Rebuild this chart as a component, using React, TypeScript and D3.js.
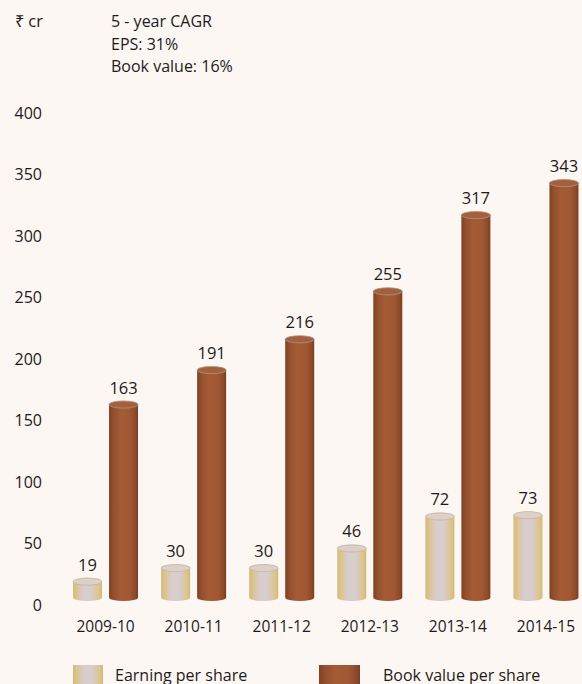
import React from "react";
import * as d3 from "d3";

const categories = ["2009-10", "2010-11", "2011-12", "2012-13", "2013-14", "2014-15"];
const epsValues = [19, 30, 30, 46, 72, 73];
const bookValues = [163, 191, 216, 255, 317, 343];
const seriesNames = ["Earning per share", "Book value per share"];
const yTicks = [0, 50, 100, 150, 200, 250, 300, 350, 400];
const headerLines = ["5 - year CAGR", "EPS: 31%", "Book value: 16%"];
const unitLabel = "₹ cr";

const W = 582;
const H = 684;
const FONT = "'Open Sans', sans-serif";
const TEXT = "#1e1a1b";

export default function App() {
  const x = d3.scaleBand<string>().domain(categories).range([61.5, 590]).padding(0);
  const inner = d3
    .scaleBand<string>()
    .domain(seriesNames)
    .range([-32.5, 32.5])
    .paddingInner(7 / 36)
    .paddingOuter(0);
  const y = d3.scaleLinear().domain([0, 400]).range([605, 113]);
  const bw = inner.bandwidth();
  const ry = 3.6;
  const base = y(0) - 7.5;

  const series = [
    { name: seriesNames[0], values: epsValues, body: "url(#gEps)", top: "#dcd0cc", stroke: "#c9b48e" },
    { name: seriesNames[1], values: bookValues, body: "url(#gBv)", top: "#a4603c", stroke: "#a89488" },
  ];

  return (
    <svg
      width={W}
      height={H}
      style={{ position: "absolute", left: 0, top: 0, background: "#fcf7f3", fontFamily: FONT }}
    >
      <defs>
        <linearGradient id="gEps" x1="0" x2="1" y1="0" y2="0">
          <stop offset="0" stopColor="#d4b87c" />
          <stop offset="0.12" stopColor="#dcc48c" />
          <stop offset="0.38" stopColor="#d9cdd0" />
          <stop offset="0.62" stopColor="#d9cdd0" />
          <stop offset="0.88" stopColor="#dcc58e" />
          <stop offset="1" stopColor="#d2b97e" />
        </linearGradient>
        <linearGradient id="gBv" x1="0" x2="1" y1="0" y2="0">
          <stop offset="0" stopColor="#7e4125" />
          <stop offset="0.15" stopColor="#954f2d" />
          <stop offset="0.4" stopColor="#a25b35" />
          <stop offset="0.7" stopColor="#a05934" />
          <stop offset="0.9" stopColor="#8e4b2b" />
          <stop offset="1" stopColor="#7a3f24" />
        </linearGradient>
      </defs>
      <rect x={0} y={0} width={W} height={H} fill="#fcf7f3" />

      <text x={15} y={27} fontSize={16.5} fill={TEXT}>{unitLabel}</text>
      {headerLines.map((t, i) => (
        <text key={t} x={111} y={27 + i * 22.5} fontSize={16} fill={TEXT}>{t}</text>
      ))}

      {yTicks.map((t) => (
        <text key={t} x={42} y={y(t)} dy="0.35em" textAnchor="end" fontSize={16} fill={TEXT}>
          {t}
        </text>
      ))}

      {categories.map((c, i) => {
        const cx = (x(c) as number) + x.bandwidth() / 2;
        return (
          <g key={c}>
            {series.map((s) => {
              const left = cx + (inner(s.name) as number);
              const mid = left + bw / 2;
              const v = s.values[i];
              const yt = y(v);
              const path = `M${left},${yt} L${left},${base} A${bw / 2},${ry} 0 0 0 ${left + bw},${base} L${left + bw},${yt} Z`;
              return (
                <g key={s.name}>
                  <path d={path} fill={s.body} />
                  <ellipse cx={mid} cy={yt} rx={bw / 2} ry={ry} fill={s.top} stroke={s.stroke} strokeWidth={0.8} />
                  <text x={mid} y={yt - 11} textAnchor="middle" fontSize={16.5} fill={TEXT}>
                    {v}
                  </text>
                </g>
              );
            })}
            <text x={cx} y={632} textAnchor="middle" fontSize={15.5} fill={TEXT}>
              {c}
            </text>
          </g>
        );
      })}

      <rect x={73} y={665} width={30} height={25} fill="url(#gEps)" />
      <text x={115} y={681} fontSize={16} fill={TEXT}>{seriesNames[0]}</text>
      <rect x={319} y={665} width={41} height={25} fill="url(#gBv)" />
      <text x={383} y={681} fontSize={16} fill={TEXT}>{seriesNames[1]}</text>
    </svg>
  );
}
